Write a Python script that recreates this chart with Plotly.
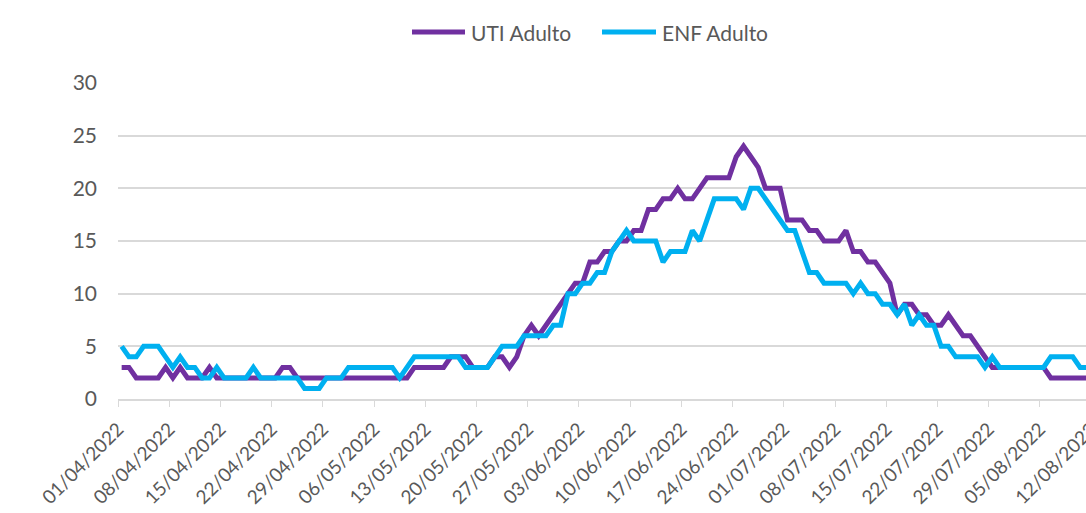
import pandas as pd
import plotly.graph_objects as go

# Daily dates (points sit in the middle of each day, like the Excel date axis)
dates = pd.date_range("2022-04-01 12:00", periods=134, freq="D")

uti_adulto = [
    3, 3, 2, 2, 2, 2, 3, 2, 3, 2, 2, 2, 3, 2,
    2, 2, 2, 2, 2, 2, 2, 2, 3, 3, 2, 2, 2, 2,
    2, 2, 2, 2, 2, 2, 2, 2, 2, 2, 2, 2, 3, 3,
    3, 3, 3, 4, 4, 4, 3, 3, 3, 4, 4, 3, 4, 6,
    7, 6, 7, 8, 9, 10, 11, 11, 13, 13, 14, 14, 15, 15,
    16, 16, 18, 18, 19, 19, 20, 19, 19, 20, 21, 21, 21, 21,
    23, 24, 23, 22, 20, 20, 20, 17, 17, 17, 16, 16, 15, 15,
    15, 16, 14, 14, 13, 13, 12, 11, 8, 9, 9, 8, 8, 7,
    7, 8, 7, 6, 6, 5, 4, 3, 3, 3, 3, 3, 3, 3,
    3, 2, 2, 2, 2, 2, 2, 2,
]

enf_adulto = [
    5, 4, 4, 5, 5, 5, 4, 3, 4, 3, 3, 2, 2, 3,
    2, 2, 2, 2, 3, 2, 2, 2, 2, 2, 2, 1, 1, 1,
    2, 2, 2, 3, 3, 3, 3, 3, 3, 3, 2, 3, 4, 4,
    4, 4, 4, 4, 4, 3, 3, 3, 3, 4, 5, 5, 5, 6,
    6, 6, 6, 7, 7, 10, 10, 11, 11, 12, 12, 14, 15, 16,
    15, 15, 15, 15, 13, 14, 14, 14, 16, 15, 17, 19, 19, 19,
    19, 18, 20, 20, 19, 18, 17, 16, 16, 14, 12, 12, 11, 11,
    11, 11, 10, 11, 10, 10, 9, 9, 8, 9, 7, 8, 7, 7,
    5, 5, 4, 4, 4, 4, 3, 4, 3, 3, 3, 3, 3, 3,
    3, 4, 4, 4, 4, 3, 3, 3,
]

series_names = ["UTI Adulto", "ENF Adulto"]
series_colors = ["#7030A0", "#00B0F0"]
y_ticks = [0, 5, 10, 15, 20, 25, 30]

FONT = "Lato"
TXT = "#595959"
GRID = "#d9d9d9"

# Page body margin is removed (post_script), so figure px = page px.
L, R, T, B = 118, 1100, 83, 399   # plot area; right edge lies past the 1086px window
W, H = 1115, 513

fig = go.Figure()
for name, vals, col in zip(series_names, [uti_adulto, enf_adulto], series_colors):
    fig.add_trace(go.Scatter(x=dates, y=vals, mode="lines", name=name,
                             line=dict(color=col, width=5), showlegend=False))

fig.update_layout(
    width=W, height=H,
    margin=dict(l=L, r=W - R, t=T, b=H - B, autoexpand=False),
    paper_bgcolor="white", plot_bgcolor="white",
    font=dict(family=FONT, size=21, color=TXT),
    showlegend=False,
)
fig.update_xaxes(
    type="date", automargin=False,
    range=["2022-04-01 00:00", "2022-08-13 05:17"],
    tick0="2022-04-01", dtick=7 * 24 * 3600 * 1000,
    tickformat="%d/%m/%Y", tickangle=-45,
    ticks="outside", ticklen=6, tickcolor=GRID, tickwidth=1,
    showline=True, linecolor=GRID, linewidth=1.5,
    showgrid=False, zeroline=False,
    ticklabelstandoff=4, ticklabeloverflow="allow",
    tickfont=dict(family=FONT, size=19, color=TXT),
)
fig.update_yaxes(
    automargin=False,
    range=[0, 30], tickvals=y_ticks,
    showgrid=True, gridcolor=GRID, gridwidth=1.5,
    zeroline=False, showline=False, ticks="",
    ticklabelstandoff=20,
    tickfont=dict(family=FONT, size=21, color=TXT),
)

# Legend drawn at the top centre: line sample + label for each series
def px(x_page):
    return (x_page - L) / (R - L)

legend_y = (B - 32) / (B - T)
legend_items = [(412, 465, 469), (602, 656, 660)]
for (x0, x1, xt), name, col in zip(legend_items, series_names, series_colors):
    fig.add_shape(type="line", xref="paper", yref="paper", x0=px(x0), x1=px(x1),
                  y0=legend_y, y1=legend_y, line=dict(color=col, width=5))
    fig.add_annotation(text=name, xref="paper", yref="paper", x=px(xt), y=legend_y,
                       xanchor="left", yanchor="middle", showarrow=False,
                       font=dict(family=FONT, size=21, color=TXT))

fig.write_html(
    "out.html",
    config={"displayModeBar": False},
    post_script="document.body.style.margin='0px';document.body.style.overflow='hidden';",
)
